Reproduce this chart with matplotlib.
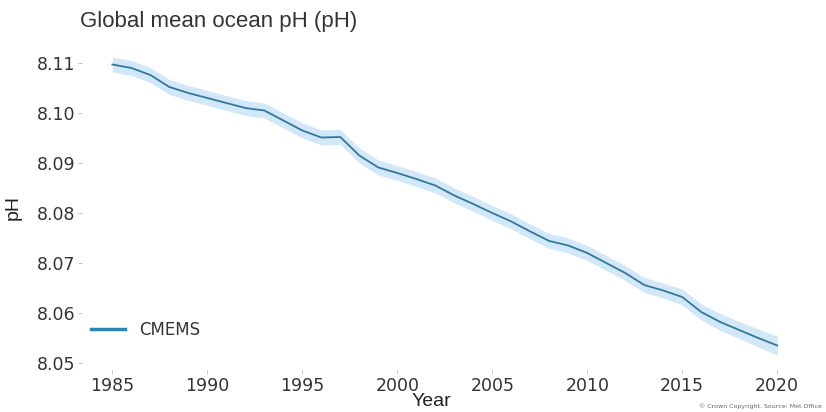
import numpy as np
import matplotlib
matplotlib.use('Agg')
import matplotlib.pyplot as plt

years = list(range(1985, 2021))
ph = [8.1097, 8.1090, 8.1076, 8.1052, 8.1040, 8.1030, 8.1020, 8.1010, 8.1005, 8.0985,
      8.0965, 8.0951, 8.0952, 8.0915, 8.0891, 8.0880, 8.0868, 8.0855, 8.0835, 8.0818,
      8.0800, 8.0783, 8.0763, 8.0744, 8.0735, 8.0720, 8.0700, 8.0680, 8.0656, 8.0645,
      8.0632, 8.0602, 8.0582, 8.0566, 8.0550, 8.0535]
ph_err = [0.0015, 0.0015, 0.0015, 0.0015, 0.0015, 0.0015, 0.0015, 0.0015, 0.0015, 0.0015,
          0.0015, 0.0015, 0.0015, 0.0015, 0.0015, 0.0015, 0.0015, 0.0015, 0.0015, 0.0015,
          0.0015, 0.0015, 0.0015, 0.0015, 0.0015, 0.0015, 0.0015, 0.0015, 0.0015, 0.0015,
          0.0016, 0.0016, 0.0017, 0.0017, 0.0018, 0.0019]
yticks = [8.05, 8.06, 8.07, 8.08, 8.09, 8.10, 8.11]
xticks = [1985, 1990, 1995, 2000, 2005, 2010, 2015, 2020]

x = np.array(years)
y = np.array(ph)
e = np.array(ph_err)

fig = plt.figure(figsize=(8.26, 4.12), dpi=100)
ax = fig.add_axes([82 / 826, 42 / 412, (800 - 82) / 826, (370 - 50) / 412])

ax.fill_between(x, y - e, y + e, color='#d2e8f8', linewidth=0)
ax.plot(x, y, color='#32789f', linewidth=1.3, label='CMEMS')

ax.set_xlim(1983.4, 2021.2)
ax.set_ylim(8.0486, 8.1126)
ax.set_xticks(xticks)
ax.set_yticks(yticks)
ax.set_yticklabels([f'{v:.2f}' for v in yticks])
for s in ax.spines.values():
    s.set_visible(False)
ax.tick_params(axis='both', labelsize=12.5, colors='#bbbbbb', labelcolor='#333333',
               length=3, width=0.6, pad=2)

fig.text(80 / 826, 1 - 22 / 412, 'Global mean ocean pH (pH)', fontsize=16,
         family='Liberation Sans', color='#333333', va='center', ha='left')
fig.text(13 / 826, 1 - 207 / 412, 'pH', fontsize=14, rotation=90,
         family='Liberation Sans', color='#222222', va='center', ha='center')
fig.text(431 / 826, 1 - 401 / 412, 'Year', fontsize=14, family='Liberation Sans',
         color='#222222', va='center', ha='center')
fig.text(822 / 826, 1 - 406 / 412, '\u00a9 Crown Copyright. Source: Met Office',
         fontsize=4.5, color='#666666', va='center', ha='right')

ax.legend(loc='lower left', bbox_to_anchor=(-0.008, 0.05), frameon=False, fontsize=12,
          handlelength=2.0, handletextpad=0.9, labelcolor='#333333')
ax.get_legend().get_lines()[0].set_linewidth(2.5)
ax.get_legend().get_lines()[0].set_color('#2a85b5')

fig.savefig('out.png', dpi=100)
